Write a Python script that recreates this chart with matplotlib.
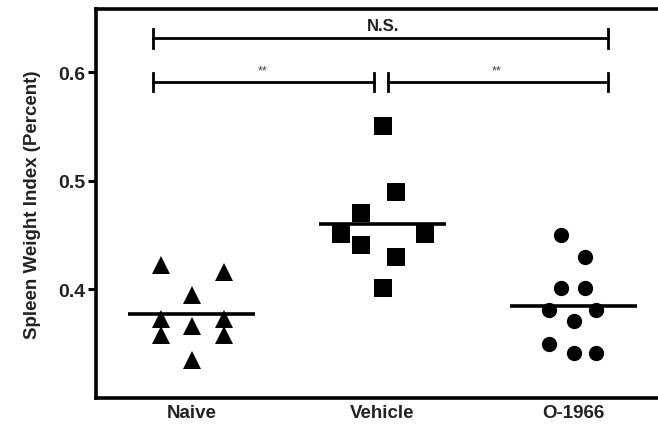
import matplotlib
matplotlib.use("Agg")
import matplotlib.pyplot as plt
import numpy as np

plt.rcParams['font.family'] = ['Liberation Sans', 'DejaVu Sans']

categories = ["Naive", "Vehicle", "O-1966"]
naive_x = [0.84, 1.17, 1.0, 0.84, 1.0, 1.17, 0.84, 1.17, 1.0]
naive_y = [0.422, 0.416, 0.395, 0.373, 0.366, 0.373, 0.358, 0.358, 0.335]
vehicle_x = [2.0, 2.073, 1.885, 1.785, 2.22, 1.885, 2.073, 2.0]
vehicle_y = [0.550, 0.490, 0.470, 0.451, 0.451, 0.441, 0.430, 0.401]
o1966_x = [2.937, 3.058, 2.937, 3.058, 2.874, 3.12, 3.0, 2.874, 3.0, 3.12]
o1966_y = [0.450, 0.430, 0.401, 0.401, 0.381, 0.381, 0.371, 0.350, 0.341, 0.341]
yticks = [0.4, 0.5, 0.6]
ytick_labels = ["0.4", "0.5", "0.6"]

W, H = 658, 427
fig = plt.figure(figsize=(W / 100, H / 100), dpi=100)
ax = fig.add_axes([96 / W, (H - 399) / H, 573 / W, 389 / H])
ax.set_xlim(0.5, 3.5)
ax.set_ylim(0.30, 0.658)

groups = [(naive_x, naive_y, '^', 13), (vehicle_x, vehicle_y, 's', 12.5), (o1966_x, o1966_y, 'o', 11)]
for i, (xs, ys, m, ms) in enumerate(groups):
    ax.plot(xs, ys, linestyle='none', marker=m, markersize=ms, color='black', markeredgewidth=0)
    mean = np.mean(ys)
    ax.plot([i + 1 - 0.33, i + 1 + 0.33], [mean, mean], color='black', lw=2.6, solid_capstyle='butt')

def bracket(x0, x1, y, h=0.0085):
    ax.plot([x0, x1], [y, y], color='black', lw=2.0)
    for xx in (x0, x1):
        ax.plot([xx, xx], [y - h, y + h], color='black', lw=2.0)

bracket(0.80, 3.18, 0.631)
bracket(0.80, 1.953, 0.591)
bracket(2.03, 3.18, 0.591)
ax.text(2.005, 0.636, "N.S.", ha='center', va='bottom', fontsize=12, fontweight='bold', color='#222222')
ax.text(1.37, 0.596, "**", ha='center', va='bottom', fontsize=9, color='#444444')
ax.text(2.60, 0.596, "**", ha='center', va='bottom', fontsize=9, color='#444444')

for s in ['left', 'bottom', 'top']:
    ax.spines[s].set_linewidth(2.6)
ax.spines['right'].set_visible(False)

ax.set_yticks(yticks)
ax.set_yticklabels(ytick_labels, fontsize=14, fontweight='bold', color='#222222')
ax.tick_params(axis='y', direction='out', length=6, width=2.2, pad=2)
ax.set_xticks([1, 2, 3])
ax.set_xticklabels(categories, fontsize=13.5, fontweight='bold', color='#222222')
ax.tick_params(axis='x', length=0, pad=4)
ax.set_ylabel("Spleen Weight Index (Percent)", fontsize=13.5, fontweight='bold', color='#222222', labelpad=12)

fig.savefig("out.png", dpi=100)
